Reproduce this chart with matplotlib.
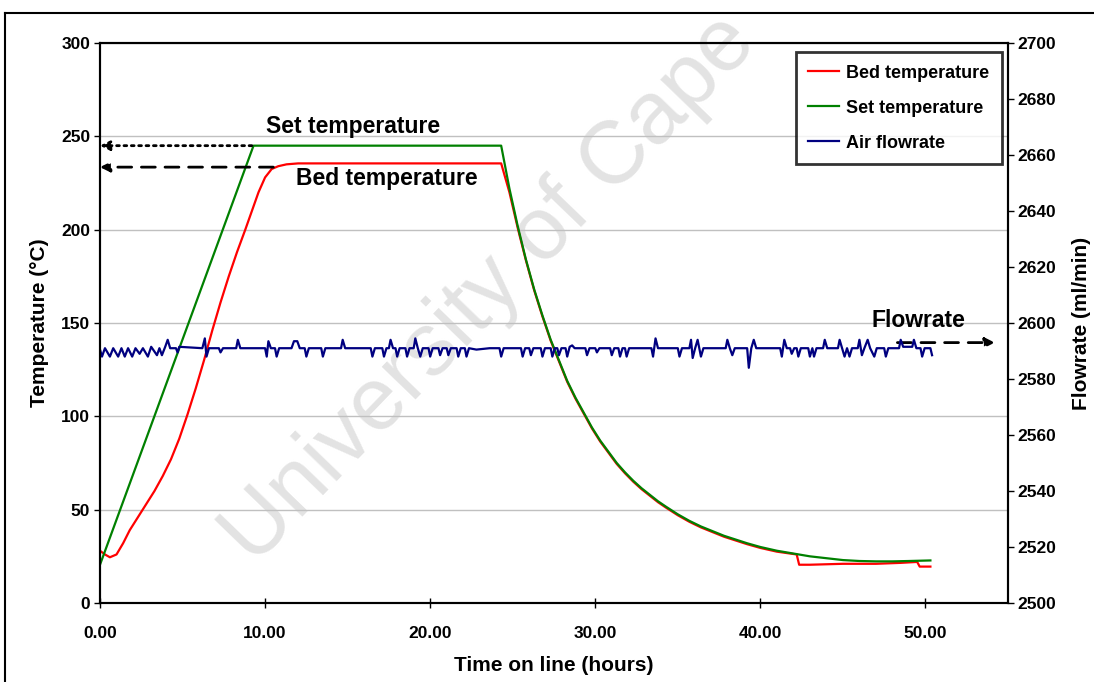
import matplotlib
matplotlib.use('Agg')
import matplotlib.pyplot as plt
from matplotlib.lines import Line2D

plt.rcParams['font.family'] = ['Liberation Sans', 'DejaVu Sans']
plt.rcParams['font.weight'] = 'bold'

# bed temperature (C) vs time on line (h)
bed_t = [0.0, 0.3, 0.6, 1.0, 1.4, 1.8, 2.3, 2.8, 3.3, 3.8, 4.3, 4.8, 5.3, 5.8,
         6.3, 6.8, 7.3, 7.8, 8.3, 8.8, 9.2, 9.6, 10.0, 10.4, 10.8, 11.3, 12.0,
         13.0, 18.0, 24.3, 24.8, 25.3, 25.8, 26.3, 26.8, 27.3, 27.8, 28.3,
         28.8, 29.3, 29.8, 30.3, 30.8, 31.3, 31.8, 32.3, 32.8, 33.3, 33.8,
         34.3, 35.0, 35.7, 36.4, 37.1, 37.8, 38.5, 39.2, 40.0, 41.0, 42.2,
         42.35, 43.0, 45.0, 47.0, 48.5, 49.5, 49.65, 50.3]
bed_temp = [28, 26, 24.5, 26, 32, 39, 46, 53, 60, 68, 77, 88, 101, 115,
            130, 146, 161, 175, 188, 200, 210, 220, 228, 232.5, 234, 235, 235.5,
            235.5, 235.5, 235.5, 220, 201, 183.5, 167.5, 153.5, 140.5, 129.5, 118.5,
            109.5, 101.5, 93.5, 86.5, 80.5, 74.5, 69.5, 65, 61, 57.5, 54,
            51, 47, 43.5, 40.5, 38, 35.5, 33.5, 31.5, 29.5, 27.5, 26,
            20.5, 20.5, 21, 21, 21.5, 22, 19.5, 19.5]

# set temperature (C)
set_t = [0.0, 9.3, 24.3, 24.8, 25.3, 25.8, 26.3, 26.8, 27.3, 27.8, 28.3,
         28.8, 29.3, 29.8, 30.3, 30.8, 31.3, 31.8, 32.3, 32.8, 33.3, 33.8,
         34.3, 35.0, 35.7, 36.4, 37.1, 37.8, 38.5, 39.2, 40.0, 41.0, 42.0,
         43.0, 44.0, 45.0, 46.0, 47.0, 48.0, 49.0, 50.3]
set_temp = [20.5, 245, 245, 222, 202, 184, 168, 154, 141, 130, 119,
            110, 102, 94, 87, 81, 75, 70, 65.5, 61.5, 58, 54.5,
            51.5, 47.5, 44, 41, 38.5, 36, 34, 32, 30, 28, 26.5,
            25, 24, 23, 22.5, 22.3, 22.3, 22.5, 22.8]

# air flowrate (ml/min)
flow_t = [0.0, 0.12, 0.3, 0.6, 0.8, 1.1, 1.3, 1.5, 1.7, 1.95,
          2.15, 2.4, 2.6, 2.9, 3.1, 3.45, 3.6, 3.75, 3.95, 4.1,
          4.25, 4.6, 4.7, 4.8, 6.2, 6.35, 6.45, 6.6, 7.2, 7.3,
          7.45, 8.25, 8.35, 8.5, 10.0, 10.1, 10.2, 10.35, 10.6, 10.7,
          10.85, 11.6, 11.75, 11.95, 12.1, 12.4, 12.5, 12.65, 13.4, 13.5,
          13.65, 14.6, 14.7, 14.85, 16.4, 16.5, 16.65, 17.1, 17.2, 17.35,
          17.5, 17.6, 17.75, 17.9, 18.0, 18.15, 18.5, 18.6, 18.75, 19.0,
          19.1, 19.25, 19.4, 19.55, 19.9, 20.0, 20.15, 20.5, 20.6, 20.75,
          21.0, 21.1, 21.25, 21.6, 21.7, 21.85, 22.1, 22.2, 22.35, 22.8,
          23.6, 24.2, 24.3, 24.45, 25.5, 25.6, 25.75, 26.0, 26.1, 26.25,
          26.7, 26.8, 26.95, 27.3, 27.4, 27.55, 27.7, 27.8, 27.95, 28.2,
          28.3, 28.45, 28.6, 28.75, 29.4, 29.5, 29.65, 30.0, 30.1, 30.25,
          30.9, 31.0, 31.15, 31.4, 31.5, 31.65, 31.8, 31.9, 32.05, 33.4,
          33.5, 33.65, 33.8, 35.0, 35.1, 35.25, 35.7, 35.8, 35.9, 36.05,
          36.2, 36.3, 36.4, 36.55, 37.9, 38.0, 38.15, 38.3, 38.45, 39.2,
          39.3, 39.45, 39.6, 39.75, 41.2, 41.3, 41.45, 41.6, 41.8, 41.9,
          42.05, 42.2, 42.3, 42.45, 42.9, 43.0, 43.15, 43.25, 43.4, 43.8,
          43.9, 44.05, 44.7, 44.8, 44.95, 45.1, 45.25, 45.4, 45.55, 45.9,
          46.0, 46.15, 46.3, 46.5, 46.65, 46.9, 47.05, 47.5, 47.6, 47.75,
          48.4, 48.5, 48.65, 49.2, 49.3, 49.45, 49.7, 49.8, 49.95, 50.3,
          50.4]
flow_rate = [2590.5, 2588, 2591, 2588, 2591, 2588, 2591, 2588, 2591, 2588,
             2591, 2589, 2591, 2588, 2591.5, 2588.5, 2591, 2588.5, 2591.5, 2594,
             2591, 2591, 2589.5, 2591.5, 2591, 2594.5, 2588, 2591, 2591, 2589.5,
             2591, 2591, 2594, 2591, 2591, 2588, 2593.5, 2591, 2591, 2588,
             2591, 2591, 2593.5, 2593.5, 2591, 2591, 2588, 2591, 2591, 2588,
             2591, 2591, 2594, 2591, 2591, 2588, 2591, 2591, 2588, 2591,
             2591, 2594, 2591, 2591, 2588, 2591, 2591, 2588, 2591, 2591,
             2594.5, 2591, 2588, 2591, 2591, 2588, 2591, 2591, 2588.5, 2591,
             2591, 2588.5, 2591, 2591, 2588, 2591, 2591, 2588, 2591, 2590.5,
             2591, 2591, 2588, 2591, 2591, 2588, 2591, 2591, 2588.5, 2591,
             2591, 2588, 2591, 2591, 2588, 2591, 2591, 2588.5, 2591, 2591,
             2588, 2591.5, 2592, 2591, 2591, 2588.5, 2591, 2591, 2589.5, 2591,
             2591, 2588.5, 2591, 2591, 2588, 2591, 2591, 2588, 2591, 2591,
             2588, 2594.5, 2591, 2591, 2588, 2591, 2591, 2594, 2587.5, 2591,
             2594, 2591, 2588, 2591, 2591, 2594, 2591, 2588.5, 2591, 2591,
             2584, 2591, 2594, 2591, 2591, 2588, 2594, 2591, 2591, 2589,
             2591, 2591, 2588, 2591, 2591, 2588, 2591, 2588, 2591, 2591,
             2594, 2591, 2591, 2594, 2591, 2588, 2591, 2588, 2591, 2591,
             2594, 2588.5, 2591, 2594, 2591, 2588, 2591, 2591, 2588, 2591,
             2591, 2594, 2591.5, 2591.5, 2594, 2591, 2591, 2588, 2591, 2591,
             2588.5]

xticks = [0, 10, 20, 30, 40, 50]
yticks = [0, 50, 100, 150, 200, 250, 300]
y2ticks = [2500, 2520, 2540, 2560, 2580, 2600, 2620, 2640, 2660, 2680, 2700]

W, H = 1094, 682
fig = plt.figure(figsize=(W / 100, H / 100), dpi=100)
fig.patch.set_facecolor('white')

# outer frame of the chart area
fig.add_artist(Line2D([5 / W, 5 / W], [0, 1 - 13 / H], color='black', lw=1.5,
                      transform=fig.transFigure))
fig.add_artist(Line2D([5 / W, 1], [1 - 13 / H, 1 - 13 / H], color='black', lw=1.5,
                      transform=fig.transFigure))

# watermark
fig.text(490 / W, 1 - 290 / H, 'University of Cape', fontsize=64, fontweight='normal',
         color='#e3e3e3', rotation=46, ha='center', va='center',
         rotation_mode='anchor', zorder=-5)

ax = fig.add_axes([100 / W, 1 - 603 / H, 908 / W, 560 / H])
ax.patch.set_visible(False)
ax2 = ax.twinx()

ax.plot(bed_t, bed_temp, color='#ff0000', lw=1.6, label='Bed temperature')
ax.plot(set_t, set_temp, color='#008000', lw=1.6, label='Set temperature')
ax2.plot(flow_t, flow_rate, color='#000080', lw=1.6, label='Air flowrate')

ax.set_xlim(0, 55)
ax.set_ylim(0, 300)
ax2.set_ylim(2500, 2700)
ax.set_xticks(xticks)
ax.set_xticklabels(['%.2f' % v for v in xticks])
ax.set_yticks(yticks)
ax2.set_yticks(y2ticks)

ax.yaxis.grid(True, color='#c0c0c0', lw=1)
ax.set_axisbelow(True)

for a in (ax, ax2):
    for sp in a.spines.values():
        sp.set_linewidth(1.5)
        sp.set_color('black')
ax.tick_params(axis='x', direction='inout', length=7, width=1, pad=13, labelsize=12.5)
ax.tick_params(axis='y', direction='out', length=4, width=1, pad=3, labelsize=12.5)
ax2.tick_params(axis='y', direction='out', length=4, width=1, pad=3, labelsize=12.5)

ax.set_xlabel('Time on line (hours)', fontsize=15, fontweight='bold', labelpad=11)
ax.set_ylabel('Temperature (°C)', fontsize=15, fontweight='bold', labelpad=9)
ax2.set_ylabel('Flowrate (ml/min)', fontsize=15, fontweight='bold', labelpad=11)

# annotations
ax.annotate('', xy=(0, 245), xytext=(9.2, 245),
            arrowprops=dict(arrowstyle='-|>', ls=':', lw=2, color='black',
                            mutation_scale=14, shrinkA=0, shrinkB=0))
ax.text(15.3, 255, 'Set temperature', fontsize=16.5, fontweight='bold',
        ha='center', va='center')
ax.annotate('', xy=(0, 233.5), xytext=(10.5, 233.5),
            arrowprops=dict(arrowstyle='-|>', ls=(0, (5, 3.5)), lw=2, color='black',
                            mutation_scale=14, shrinkA=0, shrinkB=0))
ax.text(17.4, 227.5, 'Bed temperature', fontsize=16.5, fontweight='bold',
        ha='center', va='center')
ax.annotate('', xy=(54.2, 139.5), xytext=(48.3, 139.5),
            arrowprops=dict(arrowstyle='-|>', ls=(0, (5, 3.5)), lw=2, color='black',
                            mutation_scale=14, shrinkA=0, shrinkB=0))
ax.text(49.6, 151.5, 'Flowrate', fontsize=16.5, fontweight='bold',
        ha='center', va='center')

h1, l1 = ax.get_legend_handles_labels()
h2, l2 = ax2.get_legend_handles_labels()
leg = ax2.legend(h1 + h2, l1 + l2, loc='upper right',
                 bbox_to_anchor=(1 - 6 / 908, 1 - 9 / 560), borderaxespad=0,
                 fontsize=13, handlelength=1.7, handletextpad=0.4,
                 labelspacing=1.0, borderpad=0.7, fancybox=False)
leg.get_frame().set_edgecolor('black')
leg.get_frame().set_linewidth(2)
for t in leg.get_texts():
    t.set_fontweight('bold')

fig.savefig('out.png', dpi=100)
